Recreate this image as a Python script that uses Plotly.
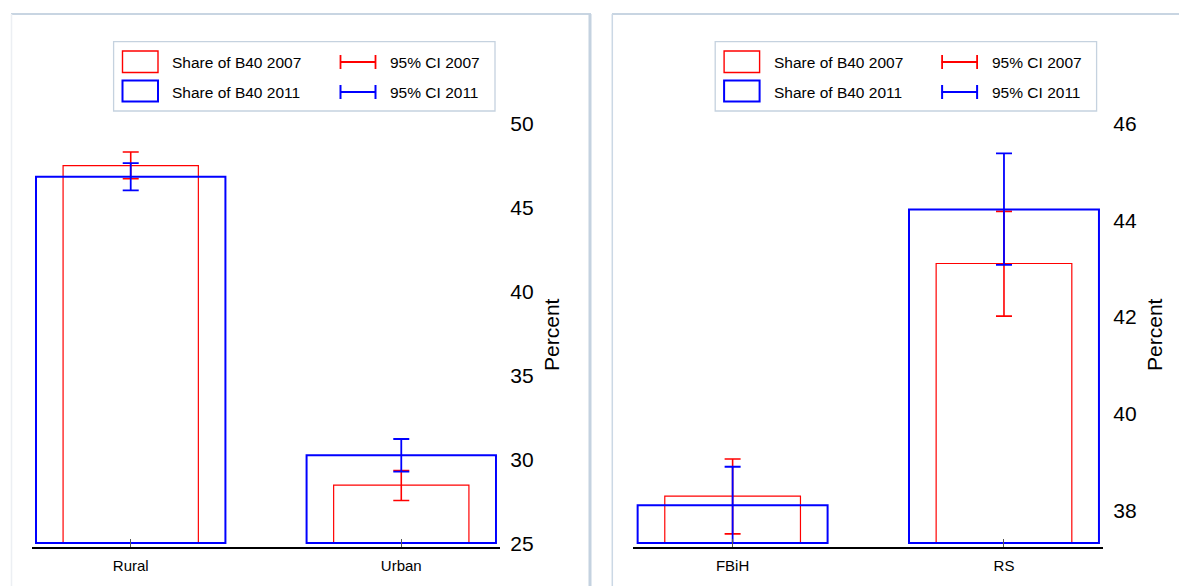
import plotly.graph_objects as go

W, H = 1179, 586

# ---------------- data ----------------
area_categories = ["Rural", "Urban"]
area_share_2007 = [47.46, 28.44]
area_share_2011 = [46.80, 30.22]
area_ci_low_2007 = [46.68, 27.53]
area_ci_high_2007 = [48.27, 29.31]
area_ci_low_2011 = [45.99, 29.25]
area_ci_high_2011 = [47.61, 31.19]

entity_categories = ["FBiH", "RS"]
entity_share_2007 = [38.27, 43.09]
entity_share_2011 = [38.08, 44.21]
entity_ci_low_2007 = [37.49, 42.00]
entity_ci_high_2007 = [39.04, 44.17]
entity_ci_low_2011 = [37.30, 43.06]
entity_ci_high_2011 = [38.88, 45.37]

area_yticks = [25, 30, 35, 40, 45, 50]
entity_yticks = [38, 40, 42, 44, 46]

legend_labels = ["Share of B40 2007", "Share of B40 2011", "95% CI 2007", "95% CI 2011"]
y_title = "Percent"

# ---------------- styling ----------------
FONT = "Liberation Sans, Arial, sans-serif"
RED = "#ff0000"
BLUE = "#0000ff"
BORDER = "#c8d5e2"


def px(x):
    return x / W


def py(y):
    return 1 - y / H


fig = go.Figure()

panels = [
    dict(cats=area_categories, s07=area_share_2007, s11=area_share_2011,
         lo07=area_ci_low_2007, hi07=area_ci_high_2007,
         lo11=area_ci_low_2011, hi11=area_ci_high_2011,
         base=25.0, yrange=[24.79, 50.0], ticks=area_yticks,
         xdom=(31.7, 500.3), xa="x", ya="y", dx=0.0),
    dict(cats=entity_categories, s07=entity_share_2007, s11=entity_share_2011,
         lo07=entity_ci_low_2007, hi07=entity_ci_high_2007,
         lo11=entity_ci_low_2011, hi11=entity_ci_high_2011,
         base=37.3, yrange=[37.228, 46.0], ticks=entity_yticks,
         xdom=(633.3, 1103.3), xa="x2", ya="y2", dx=601.6),
]

for p in panels:
    b = p["base"]
    fig.add_trace(go.Bar(
        x=p["cats"], y=[v - b for v in p["s07"]], base=b, width=0.5,
        marker=dict(color="rgba(0,0,0,0)", line=dict(color=RED, width=1.2)),
        error_y=dict(type="data", symmetric=False,
                     array=[h - v for h, v in zip(p["hi07"], p["s07"])],
                     arrayminus=[v - l for v, l in zip(p["s07"], p["lo07"])],
                     color=RED, thickness=1.6, width=8),
        xaxis=p["xa"], yaxis=p["ya"], showlegend=False, hoverinfo="skip"))
    fig.add_trace(go.Bar(
        x=p["cats"], y=[v - b for v in p["s11"]], base=b, width=0.7,
        marker=dict(color="rgba(0,0,0,0)", line=dict(color=BLUE, width=2)),
        error_y=dict(type="data", symmetric=False,
                     array=[h - v for h, v in zip(p["hi11"], p["s11"])],
                     arrayminus=[v - l for v, l in zip(p["s11"], p["lo11"])],
                     color=BLUE, thickness=1.8, width=8),
        xaxis=p["xa"], yaxis=p["ya"], showlegend=False, hoverinfo="skip"))

shapes = []
annotations = []

# panel frames
shapes += [
    dict(type="line", x0=px(11), x1=px(591), y0=py(14), y1=py(14), line=dict(color=BORDER, width=2)),
    dict(type="line", x0=px(11.5), x1=px(11.5), y0=py(14), y1=py(586), line=dict(color="#eceff3", width=1.5)),
    dict(type="line", x0=px(590), x1=px(590), y0=py(14), y1=py(586), line=dict(color="#c4d2e0", width=3)),
    dict(type="line", x0=px(612), x1=px(1179), y0=py(14), y1=py(14), line=dict(color=BORDER, width=2)),
    dict(type="line", x0=px(612.3), x1=px(612.3), y0=py(14), y1=py(586), line=dict(color="#cbd8e5", width=1.5)),
]
for s in shapes:
    s.update(xref="paper", yref="paper", layer="below")

legend_font = dict(family=FONT, size=15.5, color="#000000")
for p in panels:
    dx = p["dx"]
    leg = [
        dict(type="rect", x0=px(113.6 + dx), x1=px(495 + dx), y0=py(41.7), y1=py(111),
             line=dict(color="#c5d2df", width=1.3), fillcolor="white"),
        dict(type="rect", x0=px(122.5 + dx), x1=px(158 + dx), y0=py(51), y1=py(72.5),
             line=dict(color=RED, width=1.4)),
        dict(type="rect", x0=px(122.5 + dx), x1=px(158 + dx), y0=py(80.5), y1=py(101.5),
             line=dict(color=BLUE, width=2)),
    ]
    for yc, col, wd in [(62, RED, 1.8), (92, BLUE, 2)]:
        leg += [
            dict(type="line", x0=px(340 + dx), x1=px(376 + dx), y0=py(yc), y1=py(yc), line=dict(color=col, width=wd)),
            dict(type="line", x0=px(340.5 + dx), x1=px(340.5 + dx), y0=py(yc - 7), y1=py(yc + 7), line=dict(color=col, width=wd)),
            dict(type="line", x0=px(375.5 + dx), x1=px(375.5 + dx), y0=py(yc - 7), y1=py(yc + 7), line=dict(color=col, width=wd)),
        ]
    for s in leg:
        s.update(xref="paper", yref="paper")
    shapes += leg
    for txt, (xx, yy) in zip(legend_labels, [(170, 62.5), (170, 92.5), (388, 62.5), (388, 92.5)]):
        annotations.append(dict(text=txt, x=px(xx + dx), y=py(yy), xref="paper", yref="paper",
                                xanchor="left", yanchor="middle", showarrow=False, font=legend_font))

layout = dict(
    width=W, height=H, margin=dict(l=0, r=0, t=0, b=0, pad=0, autoexpand=False),
    autosize=False,
    paper_bgcolor="white", plot_bgcolor="white",
    barmode="overlay", shapes=shapes, annotations=annotations,
    font=dict(family=FONT, color="#000000"),
    showlegend=False,
)

ydom = [py(546.5), py(123)]
for i, p in enumerate(panels):
    sfx = "" if i == 0 else "2"
    layout["xaxis" + sfx] = dict(
        domain=[px(p["xdom"][0]), px(p["xdom"][1])], range=[-0.366, 1.366],
        anchor="y" + sfx, showline=True, linecolor="#000000", linewidth=1.5,
        ticks="inside", ticklen=8, tickwidth=1, tickcolor="#555555",
        tickfont=dict(family=FONT, size=15, color="#000000"), ticklabelstandoff=5,
        showgrid=False, zeroline=False, fixedrange=True, automargin=False)
    layout["yaxis" + sfx] = dict(
        domain=ydom, range=p["yrange"], anchor="x" + sfx, side="right",
        tickvals=p["ticks"], ticks="", showline=False, showgrid=False, zeroline=False,
        tickfont=dict(family=FONT, size=21, color="#000000"),
        ticklabelstandoff=9, ticklabelshift=1,
        title=dict(text=y_title, font=dict(family=FONT, size=21, color="#000000"), standoff=11),
        fixedrange=True, automargin=False)

fig.update_layout(**layout)
fig.write_html("out.html", config={"responsive": False, "displayModeBar": False})
